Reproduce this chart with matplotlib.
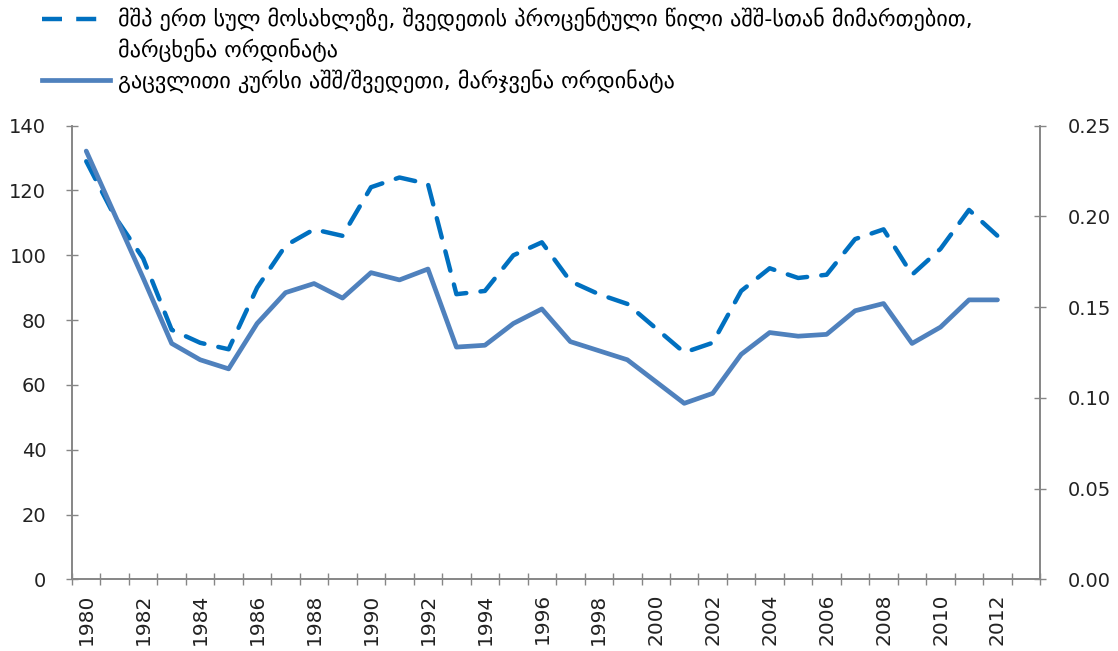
import matplotlib.pyplot as plt
from matplotlib.lines import Line2D
from matplotlib.ticker import FormatStrFormatter

# years on the category axis (2013 slot is empty in the source chart)
years = list(range(1980, 2014))

# GDP per capita, Sweden as % of USA (left axis)
gdp_share = [129, 112, 99, 77, 73, 71, 90, 103, 108, 106, 121, 124, 122,
             88, 89, 100, 104, 92, 88, 85, 77.5, 70, 73, 89, 96, 93, 94,
             105, 108, 94, 102, 114, 106]

# exchange rate USD/SEK (right axis)
fx_rate = [0.236, 0.201, 0.166, 0.130, 0.121, 0.116, 0.141, 0.158, 0.163,
           0.155, 0.169, 0.165, 0.171, 0.128, 0.129, 0.141, 0.149, 0.131,
           0.126, 0.121, 0.109, 0.097, 0.1025, 0.124, 0.136, 0.134, 0.135,
           0.148, 0.152, 0.130, 0.139, 0.154, 0.154]

label_gdp_1 = "მშპ ერთ სულ მოსახლეზე, შვედეთის პროცენტული წილი აშშ-სთან მიმართებით,"
label_gdp_2 = "მარცხენა ორდინატა"
label_fx = "გაცვლითი კურსი აშშ/შვედეთი, მარჯვენა ორდინატა"

axis_grey = '#868686'
num_font = 'DejaVu Sans'

fig = plt.figure(figsize=(11.18, 6.51), dpi=100)
ax = fig.add_axes([0.0644, 0.110, 0.866, 0.697])
ax2 = ax.twinx()

x = list(range(len(gdp_share)))
ax.plot(x, gdp_share, color='#0070C0', linewidth=3.2, dashes=(4.5, 3.2),
        dash_capstyle='round', solid_joinstyle='round', zorder=3)
ax2.plot(x, fx_rate, color='#4F81BD', linewidth=3.4,
         solid_joinstyle='round', solid_capstyle='round', zorder=3)

n = len(years)
ax.set_xlim(-0.5, n - 0.5)
ax.set_ylim(0, 140)
ax2.set_ylim(0, 0.25)

ax.set_yticks(range(0, 141, 20))
ax2.set_yticks([0, 0.05, 0.10, 0.15, 0.20, 0.25])
ax2.yaxis.set_major_formatter(FormatStrFormatter('%.2f'))

# tick marks on category boundaries, labels on every other category
ax.set_xticks([i - 0.5 for i in range(n + 1)])
ax.set_xticklabels([])
ax.set_xticks(x[::2], [str(y) for y in years[:len(x)][::2]], minor=True)
ax.tick_params(axis='x', which='major', direction='inout', length=9,
               color=axis_grey, width=1)
ax.tick_params(axis='x', which='minor', length=0, pad=10, labelsize=14.5,
               rotation=90)
ax.tick_params(axis='y', direction='inout', length=9, color=axis_grey,
               width=1, labelsize=14, pad=14)
ax2.tick_params(axis='y', direction='inout', length=9, color=axis_grey,
                width=1, labelsize=14, pad=15)
for lab in ax.get_xticklabels(minor=True) + ax.get_yticklabels() + ax2.get_yticklabels():
    lab.set_fontfamily(num_font)
    lab.set_color('#222222')

for a in (ax, ax2):
    a.spines['top'].set_visible(False)
    for s in ('left', 'right', 'bottom'):
        a.spines[s].set_color(axis_grey)
        a.spines[s].set_linewidth(1.2)

handles = [Line2D([], [], color='#0070C0', linewidth=3.2, dashes=(4.5, 3.2)),
           Line2D([], [], color='none'),
           Line2D([], [], color='#4F81BD', linewidth=3.4)]
leg = fig.legend(handles, [label_gdp_1, label_gdp_2, label_fx],
                 loc='upper left', bbox_to_anchor=(0.024, 1.012),
                 frameon=False, handlelength=3.05, handletextpad=0.36,
                 labelspacing=0.32, borderpad=0.2,
                 prop={'family': 'DejaVu Sans', 'size': 16})

fig.savefig('out.png', dpi=100)
